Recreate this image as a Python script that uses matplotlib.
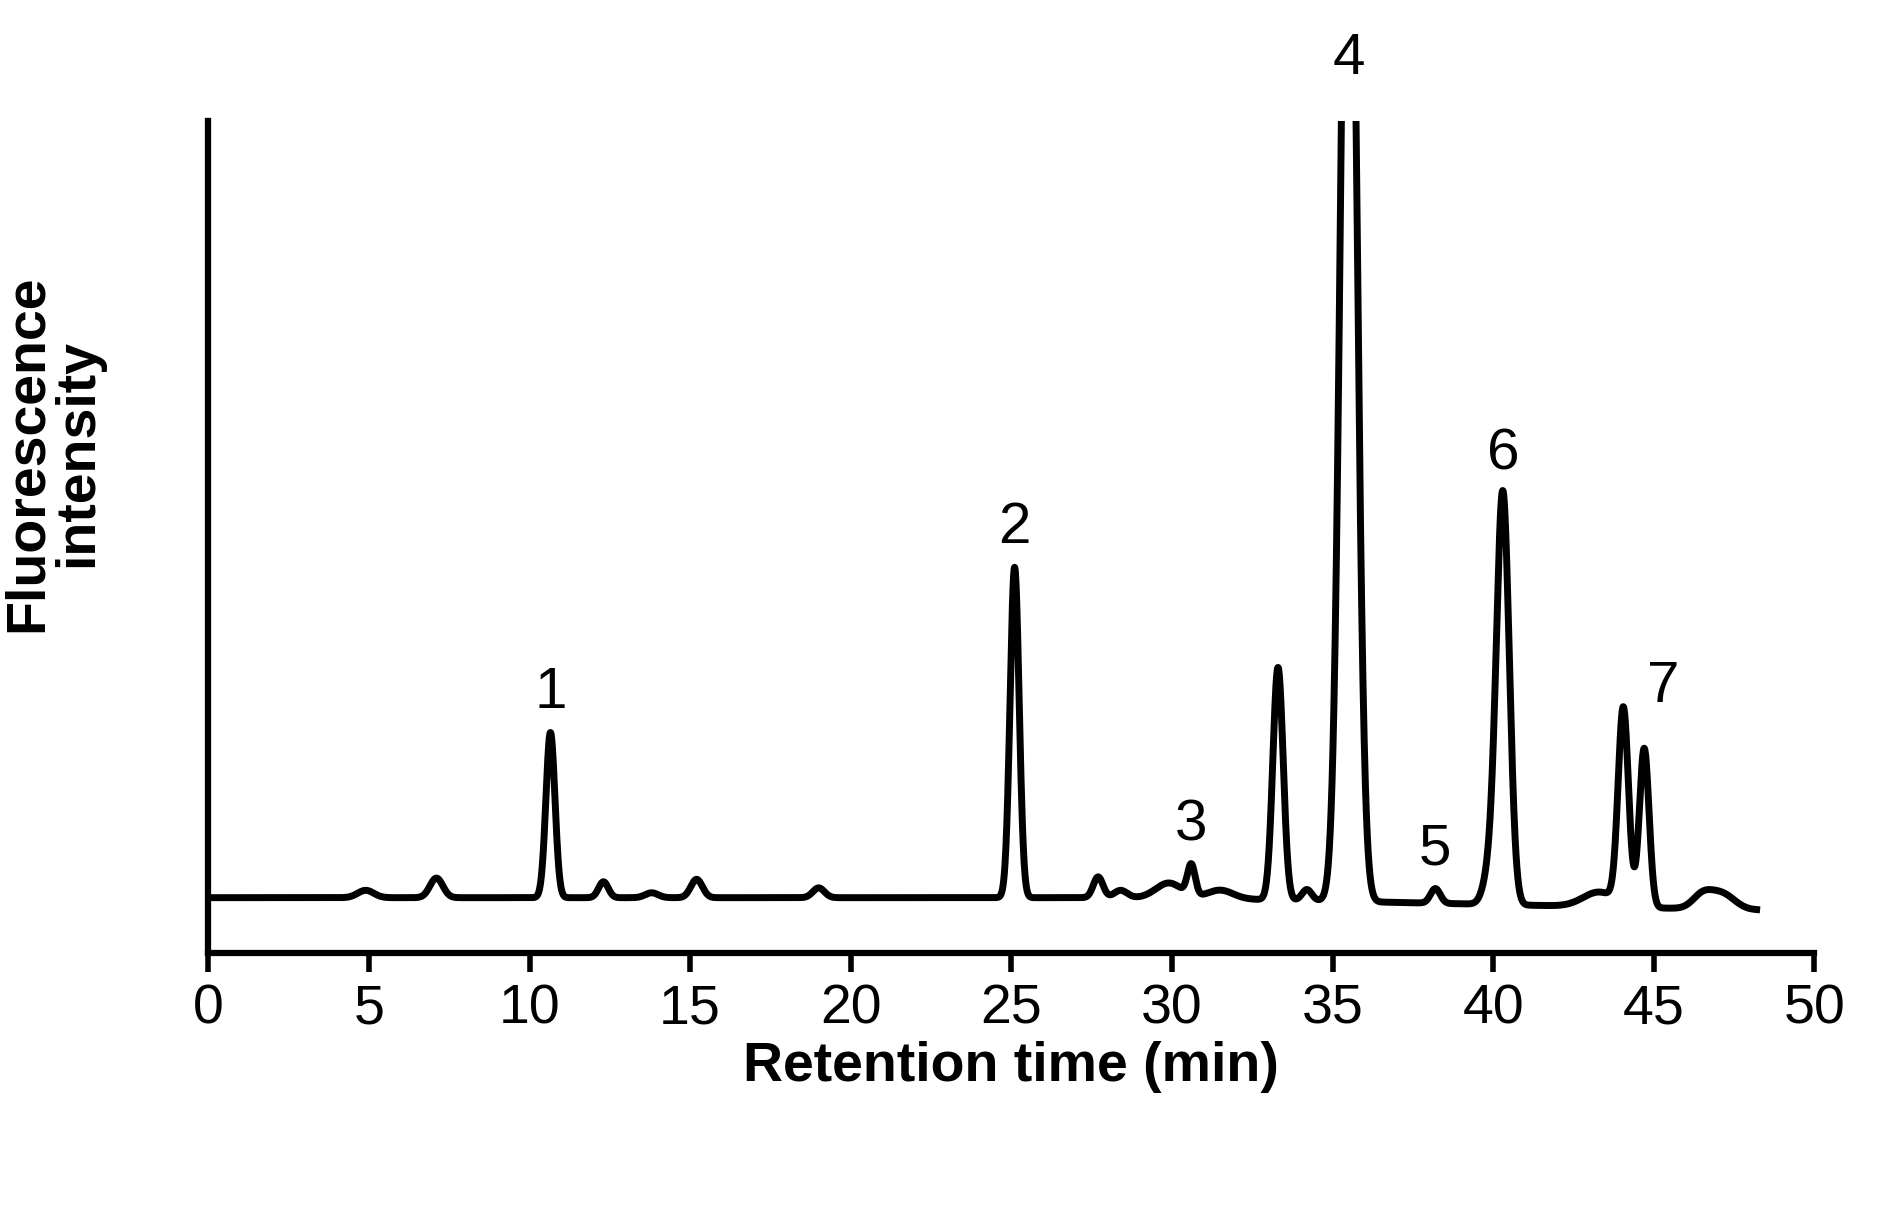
import numpy as np
import matplotlib
matplotlib.use("Agg")
import matplotlib.pyplot as plt

plt.rcParams['font.family'] = ['Liberation Sans', 'DejaVu Sans']

# peak data: retention time (min), height above baseline, width (sigma, min)
peak_rt     = [4.9, 7.1, 10.65, 12.3, 13.8, 15.2, 19.0, 25.1, 27.7, 28.4, 29.9, 30.6, 31.5, 33.3, 34.2, 35.5, 38.2, 39.9, 40.3, 43.3, 44.05, 44.7, 46.5, 47.1]
peak_height = [6,   16,  135,   13,   4,    15,   8,    270,  17,   6,    12,   25,   7,    190,  9,    1000, 12,   25,   335,  12,   160,   130,  10,   13]
peak_width  = [0.25,0.2, 0.14,  0.15, 0.2,  0.18, 0.18, 0.14, 0.15, 0.2,  0.4,  0.12, 0.4,  0.16, 0.15, 0.24, 0.15, 0.2,  0.2,  0.5,  0.16,  0.15,  0.3,  0.4]
labels      = ["1", "2", "3", "4", "5", "6", "7"]
label_x     = [10.65, 25.1, 30.6, 35.5, 38.2, 40.3, 45.3]
label_y     = [190, 325, 82, 708, 62, 385, 195]
xticks      = [0, 5, 10, 15, 20, 25, 30, 35, 40, 45, 50]

t = np.linspace(0, 48.2, 5000)
base = 45 - 10 * np.clip((t - 30) / 18, 0, 1)
y = base.copy()
for rt, h, w in zip(peak_rt, peak_height, peak_width):
    y += h * np.exp(-0.5 * ((t - rt) / w) ** 2)

fig = plt.figure(figsize=(18.94, 12.06), dpi=100)
ax = fig.add_axes([0.11, 0.21, 0.848, 0.69])
ax.plot(t, y, color="black", lw=5)
ax.set_xlim(0, 50)
ax.set_ylim(0, 680)
for s in ["top", "right"]:
    ax.spines[s].set_visible(False)
for s in ["left", "bottom"]:
    ax.spines[s].set_linewidth(4.5)
ax.set_yticks([])
ax.set_xticks(xticks)
ax.tick_params(axis="x", length=14, width=4, labelsize=40, pad=8)
for lab, lx, ly in zip(labels, label_x, label_y):
    ax.text(lx, ly, lab, ha="center", va="bottom", fontsize=42, clip_on=False)
ax.set_xlabel("Retention time (min)", fontsize=40, fontweight="bold", labelpad=4)
ax.set_ylabel("Fluorescence\nintensity", fontsize=40, fontweight="bold", linespacing=0.95)
ax.yaxis.set_label_coords(-0.065, 0.6)
fig.savefig("out.png", dpi=100)
